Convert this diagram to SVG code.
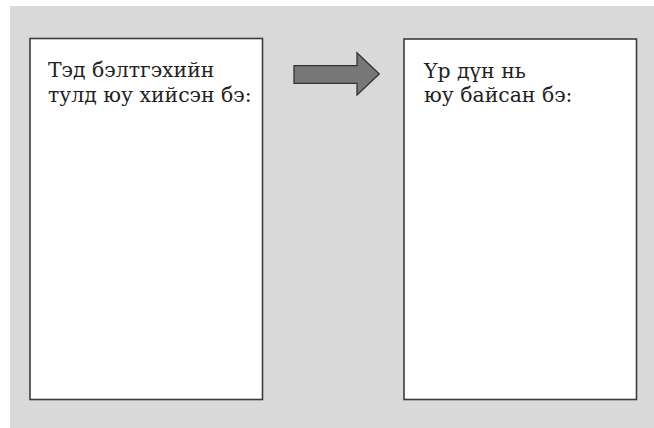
<svg xmlns="http://www.w3.org/2000/svg" width="654" height="428" viewBox="0 0 654 428">
<style>
.box{fill:#ffffff;stroke:#3c3c3c;stroke-width:1.6}
.t{font-family:"DejaVu Serif","Liberation Serif",serif;font-size:20.4px;fill:#222222}
</style>
<rect x="0" y="0" width="654" height="428" fill="#ffffff"/>
<rect x="10" y="6" width="644" height="422" fill="#d9d9d9"/>
<g id="node-left">
<rect class="box" x="30" y="38.5" width="232.5" height="361"/>
<text class="t" x="48" y="77">Тэд бэлтгэхийн</text>
<text class="t" x="48" y="101.5">тулд юу хийсэн бэ:</text>
</g>
<g id="node-right">
<rect class="box" x="404" y="39" width="232.5" height="360.5"/>
<text class="t" x="424" y="77.5">Үр дүн нь</text>
<text class="t" x="424" y="102">юу байсан бэ:</text>
</g>
<g id="connectors">
<polygon points="294,65.7 357,65.7 357,52.7 379.3,74 357,95 357,83.3 294,83.3" fill="#777777" stroke="#333333" stroke-width="1.3"/>
</g>
</svg>
